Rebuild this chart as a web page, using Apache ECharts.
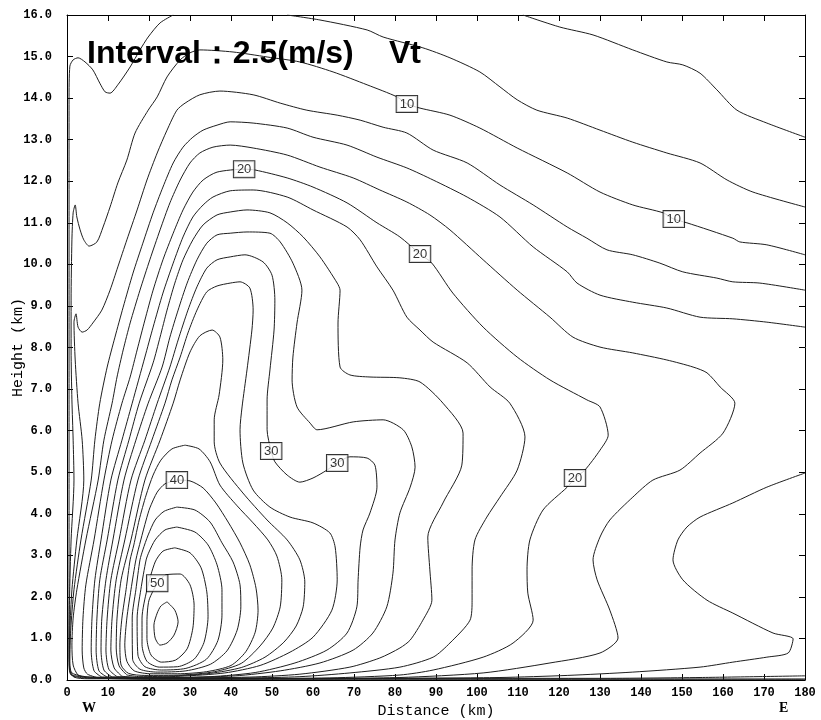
<!DOCTYPE html>
<html>
<head>
<meta charset="utf-8">
<script src="https://cdn.jsdelivr.net/npm/echarts@6/dist/echarts.min.js"></script>
<style>
  html, body { margin: 0; padding: 0; background: #ffffff; }
  #chart { width: 821px; height: 720px; }
</style>
</head>
<body>
<div id="chart"></div>
<script>
// Vt cross-section: isotachs every 2.5 m/s, distance (km) vs height (km).
// Each array is one isoline traced as [distance_km, height_km] pairs.

const xTickValues = [0, 10, 20, 30, 40, 50, 60, 70, 80, 90, 100, 110, 120, 130, 140, 150, 160, 170, 180];
const xTickLabels = ['0', '10', '20', '30', '40', '50', '60', '70', '80', '90', '100', '110', '120', '130', '140', '150', '160', '170', '180'];
const yTickValues = [0, 1, 2, 3, 4, 5, 6, 7, 8, 9, 10, 11, 12, 13, 14, 15, 16];
const yTickLabels = ['0.0', '1.0', '2.0', '3.0', '4.0', '5.0', '6.0', '7.0', '8.0', '9.0', '10.0', '11.0', '12.0', '13.0', '14.0', '15.0', '16.0'];

const vt5 = [[111.2,16.0],[120.2,15.71],[128.3,15.52],[138.0,15.16],[146.3,14.87],[150.2,14.80],[154.4,14.60],[158.5,14.20],[163.4,13.71],[170.7,13.40],[180,13.06]];

const vt7_5 = [[53.7,16.0],[61.7,15.88],[73.2,15.64],[77.1,15.47],[86.8,15.21],[93.4,14.97],[100.7,14.63],[105.6,14.27],[109.8,13.96],[114.6,13.71],[122.0,13.52],[130.0,13.23],[138.0,12.94],[146.3,12.68],[154.4,12.44],[161.0,12.03],[167.3,11.74],[180,11.38]];

const vt7_5West = [[25.9,16.0],[22.7,15.81],[19.8,15.47],[17.8,15.16],[15.4,14.75],[12.4,14.32],[10.5,14.12],[9.3,14.15],[8.0,14.36],[6.3,14.68],[4.4,14.87],[2.7,14.97],[1.5,14.92],[0.7,14.77],[0.5,13.96],[0.5,11.55],[0.5,9.14],[0.5,6.74],[0.5,4.33],[0.5,1.92],[0.5,0.72],[0.7,0.24],[1.7,0.07],[5.0,0.03],[180,0.02]];

const vt10 = [[180,10.23],[170.7,10.47],[164.1,10.54],[162.4,10.63],[151.2,11.00],[148.0,11.09],[145.4,11.24],[138.0,11.43],[130.0,11.74],[122.0,12.20],[109.8,12.80],[100.7,13.28],[93.4,13.59],[86.1,13.76],[82.9,13.86],[80.5,14.03],[73.2,14.32],[64.9,14.63],[56.8,14.87],[48.8,14.99],[40.5,15.11],[32.4,15.16],[30.0,15.09],[27.6,14.92],[24.4,14.51],[22.0,14.03],[19.8,13.71],[16.6,13.16],[14.6,12.51],[12.4,11.96],[10.5,11.38],[8.8,10.90],[7.3,10.54],[5.4,10.44],[4.1,10.59],[3.2,10.83],[2.4,11.14],[2.0,11.43],[1.5,11.24],[1.2,10.59],[1.0,9.14],[1.0,7.94],[1.2,6.74],[1.5,5.77],[1.7,4.81],[1.0,3.37],[0.6,1.92],[0.5,0.96],[0.5,0.36],[1.0,0.12],[4.4,0.05],[32.4,0.02],[180,0.02]];

const vt12_5 = [[180,9.38],[169.0,9.55],[162.4,9.58],[158.5,9.67],[150.2,9.82],[144.6,10.03],[138.0,10.23],[131.7,10.35],[126.8,10.63],[122.0,10.90],[113.7,11.43],[105.6,11.91],[97.6,12.44],[89.3,12.75],[82.9,13.16],[77.1,13.30],[71.5,13.47],[65.9,13.59],[58.5,13.71],[52.0,13.88],[45.4,14.08],[37.3,14.17],[32.4,14.08],[28.8,13.88],[26.8,13.71],[24.4,13.23],[22.0,12.68],[19.5,12.03],[17.1,11.31],[14.6,10.59],[12.4,9.94],[10.5,9.38],[8.5,8.90],[6.3,8.59],[4.9,8.42],[3.7,8.37],[2.7,8.49],[2.2,8.81],[1.7,8.61],[2.0,7.70],[2.7,6.66],[3.7,5.77],[4.1,4.81],[2.4,3.37],[1.2,2.17],[0.7,1.20],[0.6,0.48],[1.0,0.14],[5.6,0.07],[56.8,0.04],[130.0,0.04],[154.4,0.06],[180,0.10]];

const vt15 = [[180,8.49],[170.7,8.61],[162.4,8.69],[154.4,8.73],[146.3,8.95],[138.0,9.09],[130.0,9.26],[124.4,9.55],[122.0,9.82],[113.7,10.42],[105.6,11.14],[97.6,11.62],[89.3,12.03],[82.9,12.32],[75.6,12.58],[68.3,12.87],[60.0,13.06],[53.7,13.28],[45.4,13.40],[39.8,13.43],[36.6,13.35],[33.2,13.23],[30.7,13.06],[28.3,12.82],[25.9,12.44],[23.4,11.86],[21.0,11.24],[18.5,10.51],[16.1,9.79],[13.7,8.97],[11.7,8.25],[9.8,7.53],[8.0,6.66],[6.8,5.77],[5.9,4.81],[3.4,3.37],[1.7,2.17],[0.9,1.20],[0.7,0.48],[1.2,0.17],[6.8,0.06],[56.8,0.03],[81.2,0.04],[105.6,0.06],[122.0,0.11],[138.0,0.19],[154.4,0.31],[162.4,0.43],[170.7,0.55],[175.9,0.65],[177.1,0.99],[172.2,1.13],[162.4,1.61],[156.1,1.92],[150.2,2.41],[147.8,2.89],[149.0,3.37],[151.2,3.68],[154.4,3.92],[162.4,4.26],[170.7,4.64],[180,4.98]];

const vt17_5 = [[5.0,0.05],[2.7,0.12],[1.5,0.36],[1.2,0.84],[1.5,1.49],[2.4,2.17],[4.6,3.37],[7.6,4.81],[9.0,5.77],[11.0,6.66],[12.2,7.29],[13.7,7.94],[15.4,8.59],[17.8,9.38],[20.2,10.11],[22.7,10.83],[25.1,11.48],[27.6,12.03],[30.0,12.44],[32.4,12.68],[35.6,12.82],[39.8,12.87],[45.4,12.80],[53.7,12.63],[61.7,12.34],[69.8,12.08],[76.3,11.79],[82.9,11.50],[88.5,11.19],[93.4,10.83],[101.5,10.11],[109.8,9.38],[117.8,8.73],[123.4,8.25],[130.0,8.01],[138.0,7.87],[146.3,7.70],[152.7,7.53],[156.1,7.39],[159.3,7.05],[162.9,6.66],[160.0,5.94],[154.4,5.46],[149.5,5.05],[142.9,4.81],[138.0,4.40],[132.4,3.85],[130.0,3.44],[128.3,2.89],[129.3,2.41],[132.4,1.68],[134.4,1.01],[130.0,0.65],[117.8,0.41],[101.5,0.17],[81.2,0.06],[56.8,0.03],[20.2,0.03],[5.0,0.05]];

const vt20 = [[8.0,0.04],[5.0,0.14],[4.1,0.29],[3.7,0.72],[3.9,1.49],[4.6,2.29],[6.6,3.37],[9.0,4.81],[11.0,5.77],[13.4,6.66],[15.4,7.29],[17.1,7.94],[19.0,8.66],[21.0,9.38],[23.4,10.11],[25.9,10.75],[28.3,11.31],[30.7,11.74],[33.2,12.03],[36.6,12.22],[43.2,12.29],[45.9,12.27],[53.7,12.08],[60.0,11.86],[68.3,11.48],[75.6,11.00],[81.2,10.66],[86.1,10.25],[89.0,10.03],[94.1,9.31],[101.5,8.49],[109.8,7.77],[117.8,7.22],[126.8,6.74],[130.0,6.57],[132.0,5.89],[130.0,5.53],[126.3,5.05],[123.9,4.86],[122.0,4.64],[116.1,4.09],[112.9,3.37],[112.2,2.65],[112.4,2.09],[113.7,1.44],[108.8,0.89],[101.5,0.55],[89.3,0.24],[81.2,0.12],[64.1,0.05],[44.6,0.03],[20.2,0.02],[8.0,0.04]];

const vt22_5 = [[8.5,0.07],[6.6,0.22],[5.9,0.72],[6.1,1.49],[6.8,2.41],[8.3,3.37],[10.7,4.81],[13.4,5.77],[15.9,6.66],[19.0,7.77],[21.0,8.49],[23.4,9.31],[25.9,10.03],[28.3,10.66],[30.7,11.14],[33.2,11.43],[35.6,11.62],[39.8,11.77],[45.4,11.79],[53.7,11.62],[60.0,11.31],[68.3,10.90],[71.5,10.59],[75.6,9.94],[79.5,9.38],[82.9,8.73],[86.1,8.42],[89.3,8.13],[97.6,7.63],[103.2,7.05],[108.0,6.66],[111.7,5.85],[109.8,5.05],[105.6,4.40],[102.4,3.92],[99.5,3.37],[98.8,2.65],[98.8,1.92],[98.3,1.44],[93.4,0.89],[89.3,0.55],[81.2,0.31],[69.0,0.17],[56.8,0.08],[44.6,0.05],[25.1,0.04],[8.5,0.07]];

const vt25 = [[9.8,0.07],[7.8,0.22],[7.1,0.72],[7.3,1.49],[8.0,2.41],[9.8,3.37],[12.4,4.81],[15.1,5.77],[17.6,6.66],[21.0,7.63],[22.7,8.25],[24.4,8.90],[26.3,9.55],[28.3,10.11],[30.7,10.59],[33.2,10.95],[36.6,11.19],[39.8,11.26],[43.9,11.31],[49.5,11.24],[53.7,11.00],[57.6,10.66],[61.7,10.18],[65.9,9.55],[66.6,9.38],[66.1,8.59],[66.6,7.53],[69.0,7.34],[73.9,7.29],[81.2,7.27],[86.1,7.17],[91.7,6.66],[96.6,5.94],[96.3,5.17],[91.7,4.26],[88.0,3.44],[88.5,2.65],[89.0,1.92],[86.8,1.44],[83.7,0.96],[81.2,0.77],[76.3,0.53],[69.0,0.31],[56.8,0.14],[44.6,0.07],[25.1,0.05],[9.8,0.07]];

const vt27_5 = [[11.0,0.07],[9.0,0.24],[8.3,0.72],[8.5,1.49],[9.5,2.41],[11.2,3.37],[13.9,4.81],[16.8,5.77],[19.8,6.66],[23.2,7.53],[25.1,8.25],[27.1,8.90],[29.3,9.55],[31.7,10.11],[34.1,10.51],[36.6,10.71],[39.8,10.75],[43.9,10.78],[49.5,10.75],[52.0,10.54],[55.1,10.03],[57.3,9.38],[56.1,8.59],[55.1,7.77],[54.9,7.22],[56.1,6.57],[59.3,6.18],[61.0,6.02],[69.8,6.21],[77.1,6.26],[82.0,6.02],[84.1,5.61],[84.9,5.12],[83.7,4.64],[81.2,4.02],[80.0,3.37],[79.5,2.57],[78.0,1.76],[74.6,1.13],[69.8,0.72],[61.7,0.41],[52.0,0.22],[41.0,0.10],[25.1,0.06],[11.0,0.07]];

const vt30 = [[12.2,0.08],[10.2,0.26],[9.5,0.72],[9.8,1.49],[10.7,2.41],[12.7,3.37],[15.6,4.81],[19.0,5.77],[22.0,6.66],[25.1,7.53],[27.1,8.18],[29.5,8.90],[31.7,9.46],[34.1,9.91],[36.6,10.11],[39.8,10.18],[43.4,10.23],[47.8,10.06],[50.0,9.74],[50.7,9.14],[50.5,8.42],[49.5,7.46],[48.8,6.74],[48.8,6.02],[49.8,5.51],[50.7,5.25],[53.7,4.93],[56.8,4.76],[60.0,4.86],[63.4,5.05],[65.9,5.22],[69.0,5.37],[73.2,5.34],[75.1,5.17],[75.6,4.64],[73.9,4.02],[72.2,3.61],[71.5,3.20],[71.0,2.41],[70.7,1.76],[68.3,1.13],[63.4,0.72],[55.6,0.41],[45.9,0.18],[34.9,0.08],[20.2,0.05],[12.2,0.08]];

const vt32_5 = [[13.4,0.09],[11.5,0.29],[10.7,0.72],[11.0,1.49],[12.0,2.41],[14.1,3.37],[17.3,4.81],[20.7,5.77],[23.9,6.66],[25.6,7.22],[27.6,7.77],[29.5,8.35],[31.7,8.90],[34.1,9.34],[36.6,9.48],[39.8,9.55],[42.2,9.58],[44.6,9.43],[45.4,8.90],[45.1,8.42],[43.9,7.46],[42.7,6.57],[42.2,6.02],[42.9,5.22],[45.4,4.57],[49.5,4.16],[54.4,3.92],[60.0,3.78],[64.1,3.54],[65.4,3.20],[65.9,2.41],[64.6,1.68],[60.0,1.03],[54.4,0.67],[47.1,0.35],[38.5,0.17],[27.6,0.09],[16.6,0.06],[13.4,0.09]];

const vt35 = [[14.6,0.12],[12.7,0.34],[12.0,0.77],[12.2,1.49],[13.2,2.41],[15.6,3.37],[19.0,4.81],[22.7,5.77],[25.9,6.66],[27.6,7.22],[30.0,7.89],[32.4,8.28],[35.4,8.42],[37.3,8.25],[38.0,7.70],[37.1,6.86],[35.9,6.26],[35.9,5.73],[37.3,5.22],[42.9,4.50],[48.8,3.85],[53.7,3.37],[56.8,2.89],[58.0,2.36],[57.6,1.76],[55.9,1.30],[52.9,0.91],[48.3,0.55],[42.5,0.30],[35.0,0.16],[26.3,0.10],[17.8,0.08],[14.6,0.12]];

const vt37_5 = [[28.8,5.65],[32.2,5.56],[34.9,5.25],[37.3,4.69],[41.5,4.19],[45.4,3.78],[49.0,3.37],[51.2,2.98],[52.4,2.41],[52.0,1.76],[50.2,1.25],[47.1,0.82],[42.5,0.40],[36.0,0.20],[28.0,0.12],[19.0,0.11],[15.0,0.16],[13.2,0.36],[12.9,0.84],[13.4,1.49],[14.4,2.17],[15.4,2.89],[16.3,3.25],[17.6,3.85],[19.3,4.45],[21.0,4.93],[22.9,5.29],[25.6,5.56],[28.8,5.65]];

const vt40 = [[26.8,4.81],[30.0,4.79],[33.2,4.62],[36.3,4.26],[39.3,3.80],[42.2,3.30],[44.6,2.77],[46.1,2.21],[46.6,1.68],[45.9,1.15],[43.6,0.68],[40.0,0.35],[34.0,0.20],[27.0,0.15],[20.5,0.15],[16.4,0.22],[14.6,0.45],[14.1,0.84],[14.6,1.49],[15.6,2.17],[16.8,2.89],[18.0,3.37],[19.3,3.85],[20.2,4.14],[22.0,4.52],[23.9,4.72],[26.8,4.81]];

const vt42_5 = [[26.8,4.16],[31.2,4.09],[34.9,3.80],[37.8,3.30],[40.5,2.84],[42.2,2.29],[42.4,1.76],[41.5,1.20],[39.0,0.70],[35.0,0.38],[29.0,0.22],[22.0,0.19],[17.8,0.26],[16.0,0.50],[15.9,1.49],[16.8,2.17],[17.8,2.89],[18.5,3.13],[19.8,3.49],[21.5,3.85],[23.7,4.06],[26.8,4.16]];

const vt45 = [[26.8,3.68],[31.2,3.56],[34.4,3.25],[36.6,2.77],[37.8,2.17],[37.8,1.56],[36.8,0.95],[34.0,0.50],[29.0,0.28],[23.0,0.24],[19.0,0.32],[17.3,0.60],[17.1,1.49],[18.0,2.17],[19.3,2.89],[20.0,3.08],[21.5,3.37],[23.9,3.61],[26.8,3.68]];

const vt47_5 = [[26.3,3.18],[30.0,3.06],[32.7,2.70],[34.1,2.12],[34.4,1.52],[33.4,0.90],[31.0,0.50],[27.0,0.32],[22.5,0.31],[19.5,0.45],[18.3,0.85],[18.3,1.49],[19.5,2.17],[21.5,2.84],[23.4,3.10],[26.3,3.18]];

const vt50 = [[22.0,2.33],[24.1,2.53],[27.6,2.55],[30.0,2.29],[31.0,1.80],[30.7,1.25],[29.3,0.75],[26.5,0.48],[23.0,0.43],[20.5,0.60],[19.5,1.00],[19.5,1.40],[20.0,1.92],[22.0,2.33]];

const vt52_5 = [[24.4,1.88],[26.3,1.68],[27.1,1.40],[26.1,1.08],[24.4,0.89],[22.7,0.84],[21.5,1.01],[21.2,1.32],[22.0,1.61],[22.9,1.78],[24.4,1.88]];

// Boxed level labels: [distance, height, level], each sitting on its isoline.
const labelSpots = [
  [82.9, 13.86, 10], [148.0, 11.09, 10],
  [43.2, 12.29, 20], [86.1, 10.25, 20], [123.9, 4.86, 20],
  [49.8, 5.51, 30], [65.9, 5.22, 30],
  [26.8, 4.81, 40],
  [22.0, 2.33, 50]
];

const isolines = [
  { level: 5, points: vt5 },
  { level: 7.5, points: vt7_5 },
  { level: 7.5, points: vt7_5West },
  { level: 10, points: vt10 },
  { level: 12.5, points: vt12_5 },
  { level: 15, points: vt15 },
  { level: 17.5, points: vt17_5 },
  { level: 20, points: vt20 },
  { level: 22.5, points: vt22_5 },
  { level: 25, points: vt25 },
  { level: 27.5, points: vt27_5 },
  { level: 30, points: vt30 },
  { level: 32.5, points: vt32_5 },
  { level: 35, points: vt35 },
  { level: 37.5, points: vt37_5 },
  { level: 40, points: vt40 },
  { level: 42.5, points: vt42_5 },
  { level: 45, points: vt45 },
  { level: 47.5, points: vt47_5 },
  { level: 50, points: vt50 },
  { level: 52.5, points: vt52_5 }
];

const monoFont = '"Liberation Mono", "DejaVu Sans Mono", monospace';
const lineColor = '#1e1e1e';

const series = isolines.map(function (iso) {
  return {
    name: 'Vt ' + iso.level,
    type: 'line',
    data: iso.points,
    showSymbol: false,
    symbol: 'none',
    smooth: 0.25,
    clip: true,
    silent: true,
    z: 2,
    lineStyle: { color: lineColor, width: 1 }
  };
});

series.push({
  name: 'levels',
  type: 'scatter',
  data: labelSpots,
  symbol: 'rect',
  symbolSize: 1,
  itemStyle: { color: 'rgba(0,0,0,0)' },
  silent: true,
  z: 10,
  label: {
    show: true,
    position: 'inside',
    formatter: function (p) { return String(p.value[2]); },
    fontFamily: '"Liberation Sans", Arial, sans-serif',
    fontSize: 13,
    color: '#000',
    backgroundColor: '#ffffff',
    borderColor: '#000000',
    borderWidth: 1,
    padding: [2, 3, 1, 3]
  }
});

function edgeAxisBase() {
  return {
    axisLine: { show: true, onZero: false, lineStyle: { color: '#000', width: 1 } },
    axisTick: { show: true, inside: true, length: 6, lineStyle: { color: '#000', width: 1 } },
    splitLine: { show: false }
  };
}

const chart = echarts.init(document.getElementById('chart'), null, { renderer: 'canvas' });

chart.setOption({
  animation: false,
  backgroundColor: '#ffffff',
  title: [
    {
      text: 'Interval\uFF1A2.5(m/s)',
      left: 82, top: 33,
      textStyle: { fontFamily: '"Liberation Sans", Arial, sans-serif', fontWeight: 'bold', fontSize: 32, color: '#000' }
    },
    {
      text: 'Vt',
      left: 384, top: 33,
      textStyle: { fontFamily: '"Liberation Sans", Arial, sans-serif', fontWeight: 'bold', fontSize: 32, color: '#000' }
    }
  ],
  grid: { left: 67, right: 16, top: 15, bottom: 40, show: false, containLabel: false, outerBoundsMode: 'none' },
  xAxis: [
    Object.assign(edgeAxisBase(), {
      type: 'value', position: 'bottom', min: 0, max: 180, interval: 10,
      axisLabel: {
        color: '#000', fontFamily: monoFont, fontSize: 12, fontWeight: 'bold', margin: 7,
        showMinLabel: true, showMaxLabel: true,
        formatter: function (v) { const i = xTickValues.indexOf(v); return i >= 0 ? xTickLabels[i] : ''; }
      },
      name: 'Distance (km)', nameLocation: 'middle', nameGap: 24, nameMoveOverlap: false,
      nameTextStyle: { color: '#000', fontFamily: monoFont, fontSize: 15 }
    }),
    Object.assign(edgeAxisBase(), {
      type: 'value', position: 'top', min: 0, max: 180, interval: 10,
      axisLabel: { show: false }
    })
  ],
  yAxis: [
    Object.assign(edgeAxisBase(), {
      type: 'value', position: 'left', min: 0, max: 16, interval: 1,
      axisLabel: {
        color: '#000', fontFamily: monoFont, fontSize: 12, fontWeight: 'bold', margin: 15,
        showMinLabel: true, showMaxLabel: true,
        formatter: function (v) { const i = yTickValues.indexOf(v); return i >= 0 ? yTickLabels[i] : ''; }
      },
      name: 'Height (km)', nameLocation: 'middle', nameGap: 41, nameRotate: 90, nameMoveOverlap: false,
      nameTextStyle: { color: '#000', fontFamily: monoFont, fontSize: 15 }
    }),
    Object.assign(edgeAxisBase(), {
      type: 'value', position: 'right', min: 0, max: 16, interval: 1,
      axisLabel: { show: false }
    })
  ],
  graphic: [
    { type: 'text', left: 82, top: 701, style: { text: 'W', font: 'bold 14px "Liberation Serif", serif', fill: '#000' } },
    { type: 'text', left: 779, top: 701, style: { text: 'E', font: 'bold 14px "Liberation Serif", serif', fill: '#000' } }
  ],
  series: series
});
</script>
</body>
</html>
